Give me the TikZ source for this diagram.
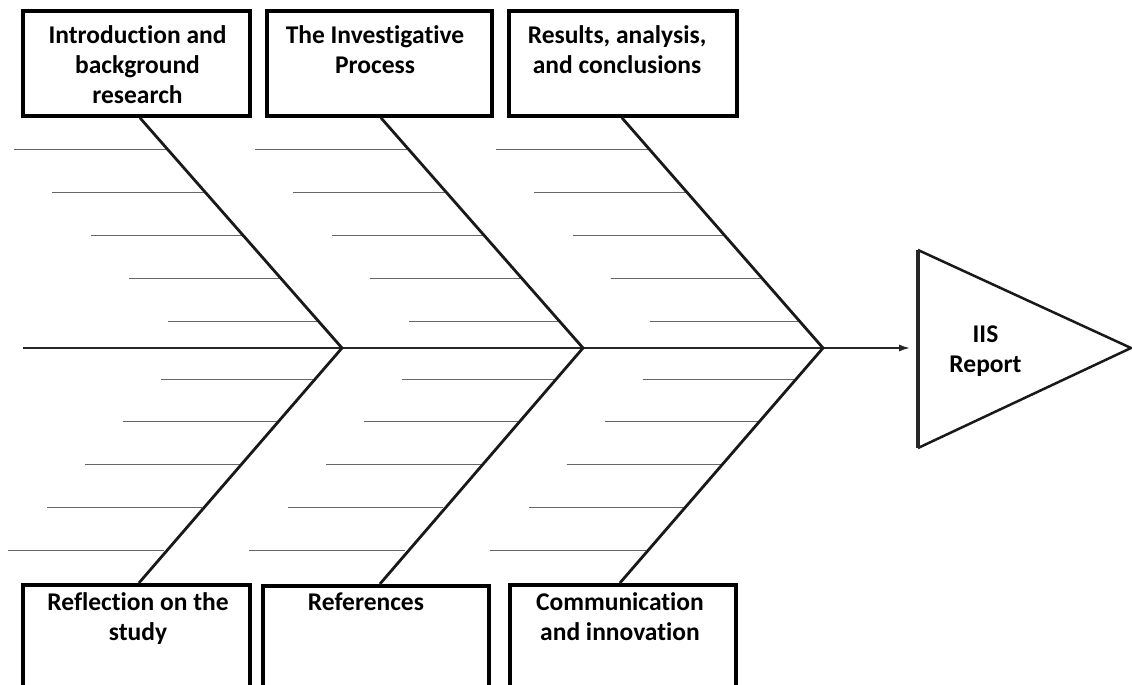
\documentclass[tikz,border=0pt]{standalone}
\usepackage{fontspec}
\setmainfont{Carlito}[RawFeature=-liga]
\usetikzlibrary{arrows.meta,calc}
\tikzset{
  box/.style={draw=black,line width=3.8pt,inner sep=0pt,anchor=north west},
  lbl/.style={inner sep=0pt,anchor=north,align=center,font=\bfseries\fontsize{25.5}{30}\selectfont},
  bone/.style={line width=2.8pt,black!90},
  spine/.style={line width=1.6pt,black!85},
  rib/.style={line width=1pt,black!60},
  headbox/.style={line width=2.5pt,black!90,line join=miter}
}
\begin{document}
\begin{tikzpicture}[x=1pt,y=-1pt]
\useasboundingbox (0,0) rectangle (1132,685);
\clip (0,0) rectangle (1132,685);
\fill[white] (0,0) rectangle (1132,685);
% boxes
\node[box,minimum width=227pt,minimum height=105pt] (box1) at (21,9) {};
\node[box,minimum width=225pt,minimum height=105pt] (box2) at (265,9) {};
\node[box,minimum width=228pt,minimum height=105pt] (box3) at (507,9) {};
\node[box,minimum width=227pt,minimum height=120pt] (box4) at (21,583) {};
\node[box,minimum width=226pt,minimum height=120pt] (box5) at (261,584) {};
\node[box,minimum width=226pt,minimum height=120pt] (box6) at (508,583) {};
% labels
\node[lbl] (t1) at (137.5,25.5) {Introduction and\\background\\research};
\node[lbl] (t2) at (375,25.5) {The Investigative\\Process};
\node[lbl] (t3) at (617,25.5) {Results, analysis,\\and conclusions};
\node[lbl] (t4) at (138,592.5) {Reflection on the\\study};
\node[lbl] (t5) at (366,592.5) {References};
\node[lbl] (t6) at (620,592.5) {Communication\\and innovation};
% spine vertices
\coordinate (v1) at (342,348);
\coordinate (v2) at (583,348);
\coordinate (v3) at (823,348);
\coordinate (s0) at (23,348);
% head triangle
\coordinate (ht) at (918,250);
\coordinate (hb) at (918,448);
\coordinate (ha) at (1131,348);
\coordinate (hl) at (918,348);
\draw[headbox] (ht) -- (ha) -- (hb);
\draw[line width=3.2pt,black!85] (ht) -- (hb);
\node[lbl] (t7) at (985.5,325.5) {IIS\\Report};
% ribs
\foreach \o in {0,241,481.5}{
  \foreach \l/\y in {14/149,52/192,91/235,129/278,168/321}{
    \draw[rib] ({\l+\o},\y) -- ({138+\o+(\y-116)*0.8793},\y);
  }
  \foreach \l/\y in {161/379,123/421,85/464,47/507,8/550}{
    \draw[rib] ({\l+\o},\y) -- ({342+\o-(\y-348)*0.8798},\y);
  }
}
% spine
\draw[spine,-{Latex[length=11pt,width=7pt]}] (s0) -- (v1) -- (v2) -- (v3) -- ([xshift=-8pt]hl);
% bones
\draw[bone] ([xshift=3.5pt]box1.south) -- (v1) -- ([xshift=2.5pt]box4.north);
\draw[bone] ([xshift=1.5pt]box2.south) -- (v2) -- ([xshift=4pt]box5.north);
\draw[bone] ([xshift=-1pt]box3.south) -- (v3) -- ([xshift=-3pt]box6.north);
\end{tikzpicture}
\end{document}
